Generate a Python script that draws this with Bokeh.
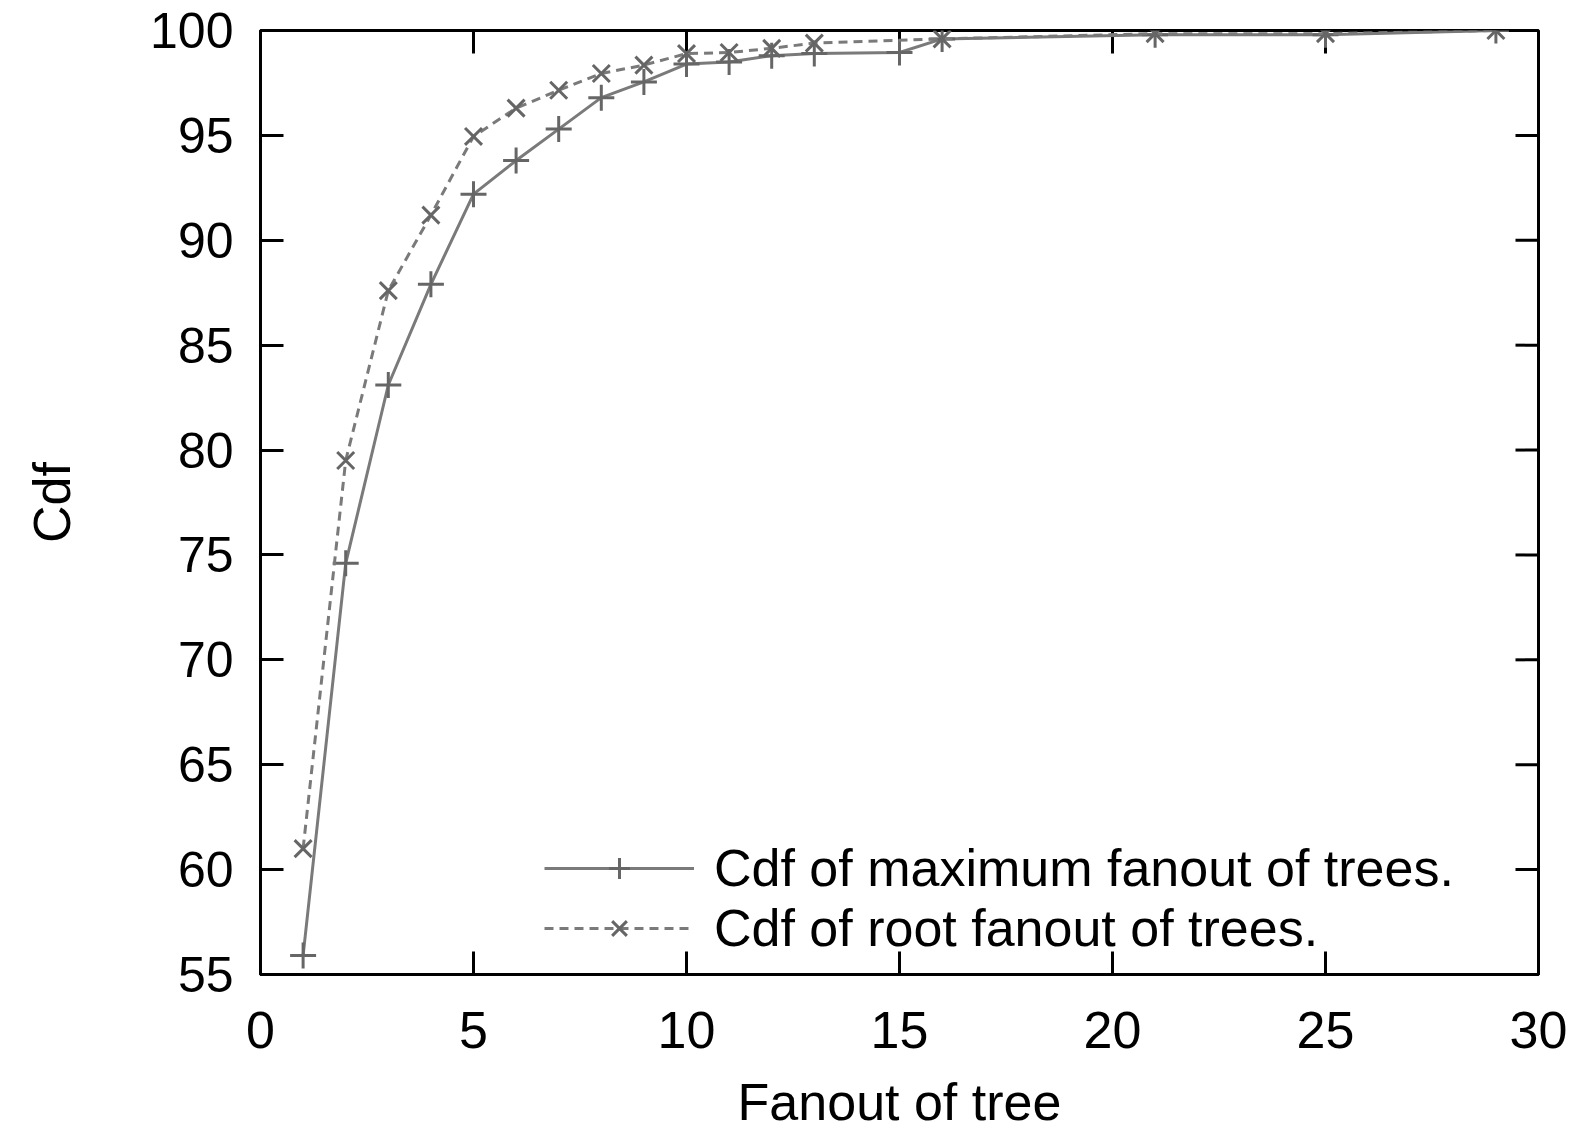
import math
from bokeh.plotting import figure
from bokeh.models import FixedTicker, Range1d, Legend, LegendItem
from bokeh.embed import file_html
from bokeh.resources import INLINE

# Data
max_fanout_x = [1, 2, 3, 4, 5, 6, 7, 8, 9, 10, 11, 12, 13, 15, 16, 21, 25, 29]
max_fanout_cdf = [55.9, 74.6, 83.1, 87.9, 92.2, 93.8, 95.3, 96.8, 97.55, 98.4,
                  98.5, 98.8, 98.9, 98.95, 99.6, 99.8, 99.8, 100.0]

root_fanout_x = [1, 2, 3, 4, 5, 6, 7, 8, 9, 10, 11, 12, 13, 16, 21, 25, 29]
root_fanout_cdf = [61.0, 79.5, 87.6, 91.2, 94.95, 96.3, 97.15, 97.95, 98.35, 98.9,
                   98.95, 99.15, 99.4, 99.6, 99.85, 99.85, 100.0]

x_ticks = [0, 5, 10, 15, 20, 25, 30]
y_ticks = [55, 60, 65, 70, 75, 80, 85, 90, 95, 100]
x_min, x_max = 0, 30
y_min, y_max = 55, 100

FONT = "Liberation Sans"
LINE_COLOR = "#7a7a7a"
MARK_COLOR = "#666666"

p = figure(width=1573, height=1133, output_backend="svg", toolbar_location=None,
           x_range=Range1d(x_min, x_max), y_range=Range1d(y_min, y_max),
           min_border_left=260, min_border_top=30, min_border_right=35,
           min_border_bottom=60)
p.grid.visible = False
p.outline_line_color = "black"
p.outline_line_width = 3
p.background_fill_color = "white"
p.border_fill_color = "white"

for ax, ticks, fs in ((p.xaxis[0], x_ticks, "52px"), (p.yaxis[0], y_ticks, "50px")):
    ax.ticker = FixedTicker(ticks=ticks)
    ax.axis_line_color = "black"
    ax.axis_line_width = 3
    ax.major_tick_line_color = "black"
    ax.major_tick_line_width = 3
    ax.major_tick_in = 23
    ax.major_tick_out = 0
    ax.minor_tick_line_color = None
    ax.major_label_text_font = FONT
    ax.major_label_text_font_size = fs
    ax.major_label_text_color = "black"
    ax.axis_label_text_font = FONT
    ax.axis_label_text_font_style = "normal"
    ax.axis_label_text_color = "black"

p.xaxis[0].major_label_standoff = 37
p.yaxis[0].major_label_standoff = 27
p.xaxis.axis_label = "Fanout of tree"
p.yaxis.axis_label = "Cdf"
p.xaxis[0].axis_label_text_font_size = "52px"
p.yaxis[0].axis_label_text_font_size = "52px"
p.xaxis[0].axis_label_standoff = 22
p.yaxis[0].axis_label_standoff = 66

# mirrored inward ticks on top and right border (gnuplot style)
p.ray(x=x_ticks, y=[y_max] * len(x_ticks), length=23, length_units="screen",
      angle=-math.pi / 2, line_color="black", line_width=3)
p.ray(x=[x_max] * len(y_ticks), y=y_ticks, length=23, length_units="screen",
      angle=math.pi, line_color="black", line_width=3)

l1 = p.line(max_fanout_x, max_fanout_cdf, line_color=LINE_COLOR, line_width=3)
m1 = p.scatter(max_fanout_x, max_fanout_cdf, marker="cross", size=26,
               line_color=MARK_COLOR, line_width=3)
l2 = p.line(root_fanout_x, root_fanout_cdf, line_color=LINE_COLOR, line_width=3,
            line_dash="9 6")
m2 = p.scatter(root_fanout_x, root_fanout_cdf, marker="x", size=24,
               line_color=MARK_COLOR, line_width=3)

legend = Legend(items=[
    LegendItem(label="Cdf of maximum fanout of trees.", renderers=[l1, m1]),
    LegendItem(label="Cdf of root fanout of trees.", renderers=[l2, m2]),
], location=(284, 16))
legend.label_text_font = FONT
legend.label_text_font_size = "52px"
legend.label_text_color = "black"
legend.glyph_width = 150
legend.glyph_height = 52
legend.label_height = 52
legend.label_standoff = 20
legend.spacing = 0
legend.padding = 8
legend.border_line_color = None
legend.background_fill_alpha = 0
p.add_layout(legend, "center")

open("out.html", "w").write(file_html(p, INLINE))
